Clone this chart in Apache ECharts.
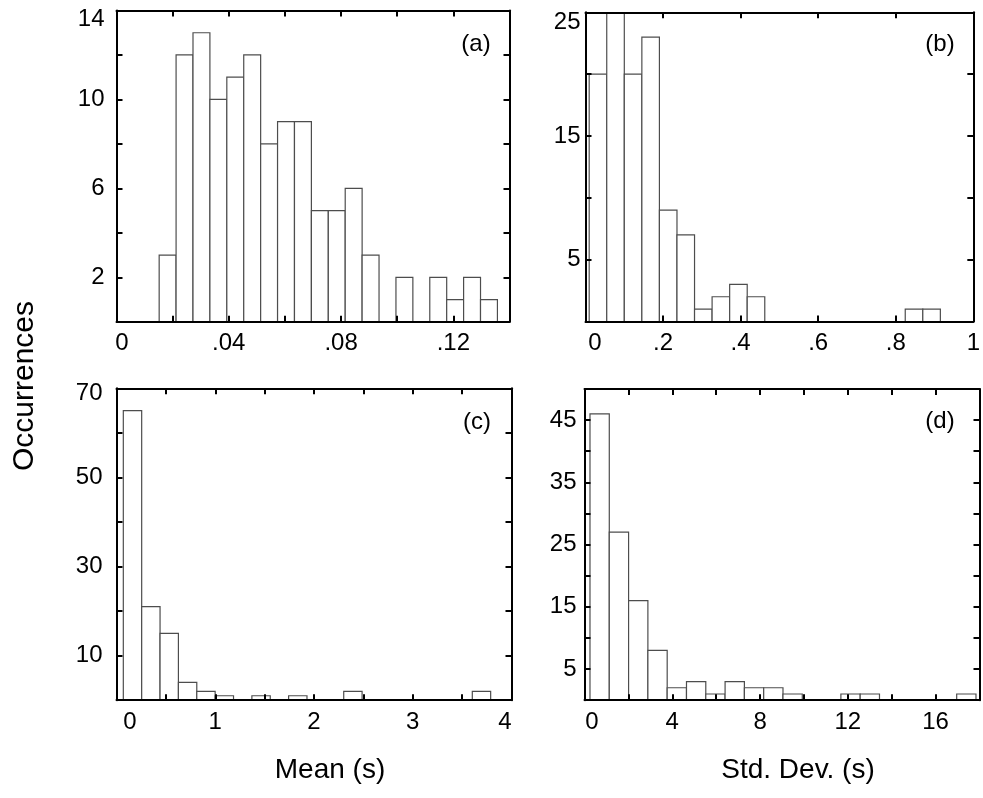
<!DOCTYPE html>
<html>
<head>
<meta charset="utf-8">
<script src="https://cdn.jsdelivr.net/npm/echarts@6/dist/echarts.min.js"></script>
<style>
html,body{margin:0;padding:0;background:#fff;}
#chart{width:983px;height:798px;}
</style>
</head>
<body>
<div id="chart"></div>
<script>
// ---- data (histogram counts, 20 equal bins each) ----
const countsA = [3, 12, 13, 10, 11, 12, 8, 9, 9, 5, 5, 6, 3, 0, 2, 0, 2, 1, 2, 1];
const countsB = [20, 25, 20, 23, 9, 7, 1, 2, 3, 2, 0, 0, 0, 0, 0, 0, 0, 0, 1, 1];
const countsC = [65, 21, 15, 4, 2, 1, 0, 1, 0, 1, 0, 0, 2, 0, 0, 0, 0, 0, 0, 2];
const countsD = [46, 27, 16, 8, 2, 3, 1, 3, 2, 2, 1, 0, 0, 1, 1, 0, 0, 0, 0, 1];

// first bin start / last bin end on each x axis
const binRangeA = [0.0152, 0.1357];
const binRangeB = [0.0095, 0.915];
const binRangeC = [0.069, 3.789];
const binRangeD = [0.25, 17.84];

// tick labels
const xTickValuesA = [0, 0.04, 0.08, 0.12];
const xTickTextA = ['0', '.04', '.08', '.12'];
const yTickValuesA = [2, 6, 10, 14];
const xTickValuesB = [0, 0.2, 0.4, 0.6, 0.8, 1];
const xTickTextB = ['0', '.2', '.4', '.6', '.8', '1'];
const yTickValuesB = [5, 15, 25];
const xTickValuesC = [0, 1, 2, 3, 4];
const xTickTextC = ['0', '1', '2', '3', '4'];
const yTickValuesC = [10, 30, 50, 70];
const xTickValuesD = [0, 4, 8, 12, 16];
const xTickTextD = ['0', '4', '8', '12', '16'];
const yTickValuesD = [5, 15, 25, 35, 45];

const panelTags = ['(a)', '(b)', '(c)', '(d)'];
const xTitles = ['Mean (s)', 'Std. Dev. (s)'];
const yTitle = 'Occurrences';

// ---- layout / style ----
const FONT = '"Liberation Sans", Arial, Helvetica, sans-serif';
const TICK_FS = 24;
const panels = [
  { counts: countsA, range: binRangeA,
    x: { min: 0, max: 0.14, interval: 0.02, vals: xTickValuesA, text: xTickTextA },
    y: { min: 0, max: 14, interval: 2, vals: yTickValuesA },
    grid: { left: 116.5, top: 10.5, width: 393, height: 311.3 },
    yMargin: 12, zeroPad: 11, lastXPad: 0, topYPad: 17,
    tag: [476, 44] },
  { counts: countsB, range: binRangeB,
    x: { min: 0, max: 1, interval: 0.2, vals: xTickValuesB, text: xTickTextB },
    y: { min: 0, max: 25, interval: 5, vals: yTickValuesB },
    grid: { left: 585.5, top: 12.3, width: 392, height: 309.2 },
    yMargin: 5, zeroPad: 19, lastXPad: 0, topYPad: 20,
    tag: [940, 44] },
  { counts: countsC, range: binRangeC,
    x: { min: 0, max: 4, interval: 0.5, vals: xTickValuesC, text: xTickTextC },
    y: { min: 0, max: 70, interval: 10, vals: yTickValuesC },
    grid: { left: 116.5, top: 388.3, width: 395, height: 311.9 },
    yMargin: 14, zeroPad: 27, lastXPad: 13, topYPad: 10,
    tag: [477, 422] },
  { counts: countsD, range: binRangeD,
    x: { min: 0, max: 18, interval: 2, vals: xTickValuesD, text: xTickTextD },
    y: { min: 0, max: 50, interval: 5, vals: yTickValuesD },
    grid: { left: 584.5, top: 389, width: 395, height: 311.2 },
    yMargin: 8, zeroPad: 15, lastXPad: 0, topYPad: 0,
    tag: [940, 421] }
];

function near(a, b, tol) { return Math.abs(a - b) < tol; }

const axisLineStyle = { color: '#000', width: 2 };
const tickStyle = { show: true, inside: true, length: 6, lineStyle: { color: '#000', width: 2 } };
const baseRich = (pad) => ({ fontSize: TICK_FS, fontFamily: FONT, color: '#000', padding: pad });

const grids = [], xAxes = [], yAxes = [], series = [];

panels.forEach((p, i) => {
  grids.push(Object.assign({ containLabel: false }, p.grid));
  const tol = p.x.interval * 1e-3;
  const ytol = p.y.interval * 1e-3;
  const lastX = p.x.vals[p.x.vals.length - 1];
  const topY = p.y.vals[p.y.vals.length - 1];
  // bottom x axis with labels
  xAxes.push({
    type: 'value', gridIndex: i, position: 'bottom', min: p.x.min, max: p.x.max, interval: p.x.interval,
    z: 10, splitLine: { show: false },
    axisLine: { show: true, onZero: false, lineStyle: axisLineStyle },
    axisTick: tickStyle,
    axisLabel: {
      show: true, margin: 10, fontSize: TICK_FS, fontFamily: FONT, color: '#000',
      showMinLabel: true, showMaxLabel: true,
      formatter: (v) => {
        const k = p.x.vals.findIndex(t => near(t, v, tol));
        if (k < 0) return '';
        if (k === 0 && p.zeroPad) return '{z|' + p.x.text[k] + '}';
        if (near(lastX, p.x.max, tol) && k === p.x.vals.length - 1 && p.lastXPad) return '{m|' + p.x.text[k] + '}';
        return p.x.text[k];
      },
      rich: { z: baseRich([0, 0, 0, p.zeroPad]), m: baseRich([0, p.lastXPad, 0, 0]) }
    }
  });
  // top mirror axis (ticks only)
  xAxes.push({
    type: 'value', gridIndex: i, position: 'top', min: p.x.min, max: p.x.max, interval: p.x.interval,
    z: 10, splitLine: { show: false },
    axisLine: { show: true, onZero: false, lineStyle: axisLineStyle },
    axisTick: tickStyle, axisLabel: { show: false }
  });
  // left y axis with labels
  yAxes.push({
    type: 'value', gridIndex: i, position: 'left', min: p.y.min, max: p.y.max, interval: p.y.interval,
    z: 10, splitLine: { show: false },
    axisLine: { show: true, onZero: false, lineStyle: axisLineStyle },
    axisTick: tickStyle,
    axisLabel: {
      show: true, margin: p.yMargin, fontSize: TICK_FS, fontFamily: FONT, color: '#000',
      showMinLabel: true, showMaxLabel: true,
      formatter: (v) => {
        const k = p.y.vals.findIndex(t => near(t, v, ytol));
        if (k < 0) return '';
        if (k === p.y.vals.length - 1 && near(topY, p.y.max, ytol) && p.topYPad) return '{t|' + v + '}';
        return String(v);
      },
      rich: { t: baseRich([p.topYPad, 0, 0, 0]) }
    }
  });
  // right mirror axis
  yAxes.push({
    type: 'value', gridIndex: i, position: 'right', min: p.y.min, max: p.y.max, interval: p.y.interval,
    z: 10, splitLine: { show: false },
    axisLine: { show: true, onZero: false, lineStyle: axisLineStyle },
    axisTick: tickStyle, axisLabel: { show: false }
  });

  const n = p.counts.length;
  const w = (p.range[1] - p.range[0]) / n;
  const data = p.counts.map((c, j) => [p.range[0] + j * w, p.range[0] + (j + 1) * w, c]);
  series.push({
    type: 'custom', xAxisIndex: i * 2, yAxisIndex: i * 2, z: 2, clip: true,
    encode: { x: [0, 1], y: 2 },
    data: data,
    renderItem: (params, api) => {
      const lo = api.value(0), hi = api.value(1), c = api.value(2);
      if (!c) return null;
      const a = api.coord([lo, c]);
      const b = api.coord([hi, 0]);
      const top = Math.max(a[1], params.coordSys.y);
      return {
        type: 'rect',
        shape: { x: a[0], y: top, width: b[0] - a[0], height: b[1] - top },
        style: { fill: '#fff', stroke: '#4d4d4d', lineWidth: 1.2 }
      };
    }
  });
});

const graphics = [];
panels.forEach((p, i) => {
  graphics.push({ type: 'text', x: p.tag[0], y: p.tag[1], z: 20,
    style: { text: panelTags[i], font: '24px ' + FONT, fill: '#000', textAlign: 'center', textVerticalAlign: 'middle' } });
});
graphics.push({ type: 'text', x: 330, y: 770, style: { text: xTitles[0], font: '28px ' + FONT, fill: '#000', textAlign: 'center', textVerticalAlign: 'middle' } });
graphics.push({ type: 'text', x: 798, y: 770, style: { text: xTitles[1], font: '28px ' + FONT, fill: '#000', textAlign: 'center', textVerticalAlign: 'middle' } });
graphics.push({ type: 'text', x: 25, y: 386, rotation: Math.PI / 2, style: { text: yTitle, font: '30px ' + FONT, fill: '#000', textAlign: 'center', textVerticalAlign: 'middle' } });

const chart = echarts.init(document.getElementById('chart'), null, { renderer: 'canvas' });
chart.setOption({
  animation: false,
  backgroundColor: '#fff',
  grid: grids,
  xAxis: xAxes,
  yAxis: yAxes,
  series: series,
  graphic: graphics
});
</script>
</body>
</html>
